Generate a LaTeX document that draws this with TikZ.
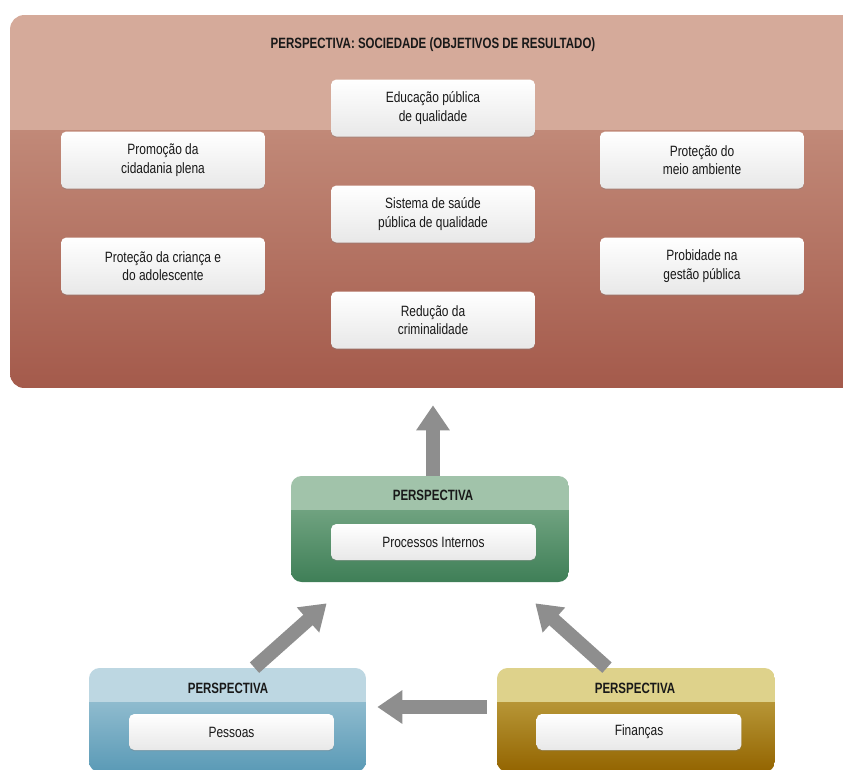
\documentclass[tikz,border=0pt]{standalone}
\usepackage{fontspec}
\setmainfont{Liberation Sans}[FakeStretch=0.8, BoldFeatures={FakeStretch=0.77}]
\usetikzlibrary{arrows.meta,calc,shadows}

\definecolor{socband}{HTML}{D5AA9A}
\definecolor{soctop}{HTML}{CE9E8C}
\definecolor{socbot}{HTML}{A45A4B}
\definecolor{procband}{HTML}{A1C3AA}
\definecolor{proctop}{HTML}{86B393}
\definecolor{procbot}{HTML}{3F7F57}
\definecolor{pesband}{HTML}{BDD7E2}
\definecolor{pestop}{HTML}{A8CBDA}
\definecolor{pesbot}{HTML}{5A9AB6}
\definecolor{finband}{HTML}{DED28B}
\definecolor{fintop}{HTML}{C8AE50}
\definecolor{finbot}{HTML}{936400}
\definecolor{arrowgray}{HTML}{8E8E8E}

\tikzset{
  band/.store in=\bandh, band=0.68cm,
  panel/.style n args={3}{rounded corners=6pt, inner sep=0pt,
    path picture={
      \shade[sharp corners, top color=#2, bottom color=#3] (path picture bounding box.south west)
        rectangle ([yshift=-\bandh]path picture bounding box.north east);
      \fill[sharp corners, #1] (path picture bounding box.north west)
        rectangle ([yshift=-\bandh]path picture bounding box.north east);}},
  goal/.style={rounded corners=3pt, top color=white, bottom color=black!9,
    minimum width=4.08cm, minimum height=1.14cm, align=center, text=black!90,
    font=\fontsize{8.5}{10.5}\selectfont,
    drop shadow={shadow xshift=0pt, shadow yshift=-0.7pt, opacity=0.35}},
  persp/.style={goal, minimum width=4.1cm, minimum height=0.72cm},
  heading/.style={font=\bfseries\fontsize{8.5}{10}\selectfont, text=black!90},
  bigarrow/.style={arrowgray, line width=0.28cm, -{Triangle[width=0.64cm,length=0.5cm]}}
}

\begin{document}
\begin{tikzpicture}[x=0.02cm,y=-0.02cm]
\useasboundingbox (0,0) rectangle (843,769);
% sociedade
\node[panel={socband}{soctop}{socbot}, band=2.3cm, rounded corners=8pt,
  minimum width=16.92cm, minimum height=7.46cm] (sociedade) at (433,201.5) {};
\node[heading] (titulo) at (433,45) {PERSPECTIVA: SOCIEDADE (OBJETIVOS DE RESULTADO)};
\node[goal] (educacao) at (433,108) {Educação pública\\de qualidade};
\node[goal] (cidadania) at (163,160) {Promoção da\\cidadania plena};
\node[goal] (ambiente) at (702,160) {Proteção do\\meio ambiente};
\node[goal] (saude) at (433,214) {Sistema de saúde\\pública de qualidade};
\node[goal] (crianca) at (163,266) {Proteção da criança e\\do adolescente};
\node[goal] (probidade) at (702,266) {Probidade na\\gestão pública};
\node[goal] (crime) at (433,320) {Redução da\\criminalidade};
% processos internos
\node[panel={procband}{proctop}{procbot}, minimum width=5.56cm, minimum height=2.12cm] (processos) at (430,529) {};
\node[heading] (processos-t) at (433,495) {PERSPECTIVA};
\node[persp] (processos-b) at (433.5,542) {Processos Internos};
% pessoas
\node[panel={pesband}{pestop}{pesbot}, minimum width=5.54cm, minimum height=2.08cm] (pessoas) at (227.5,720) {};
\node[heading] (pessoas-t) at (228,688) {PERSPECTIVA};
\node[persp] (pessoas-b) at (231.5,732) {Pessoas};
% financas
\node[panel={finband}{fintop}{finbot}, minimum width=5.56cm, minimum height=2.08cm] (financas) at (636,720) {};
\node[heading] (financas-t) at (635,688) {PERSPECTIVA};
\node[persp] (financas-b) at (639,732) {Finanças};
% setas
\draw[bigarrow] (sociedade.south |- processos.north) -- ($(sociedade.south)+(0,17)$);
\draw[bigarrow] ($(pessoas.north)+(27,0)$) -- ($(processos.south west)+(36,21)$);
\draw[bigarrow] ($(financas.north)+(-29,0)$) -- ($(processos.south east)+(-34,21)$);
\draw[bigarrow] ($(financas.west)+(-10,-13)$) -- ($(pessoas.east)+(11,-13)$);
\end{tikzpicture}
\end{document}
